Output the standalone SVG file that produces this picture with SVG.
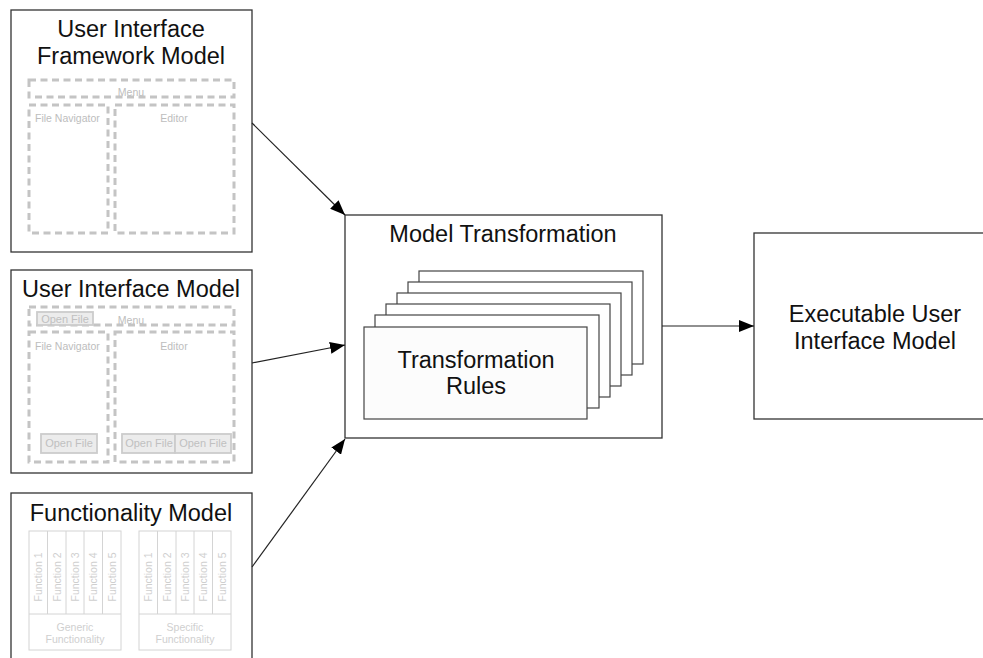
<svg xmlns="http://www.w3.org/2000/svg" width="983" height="658" viewBox="0 0 983 658">
  <style>
    .box { fill: #ffffff; stroke: #333333; stroke-width: 1.3; }
    .title { font-family: "Liberation Sans", Arial, sans-serif; font-size: 23.5px; fill: #111111; text-anchor: middle; }
    .dash { fill: none; stroke: #c4c4c4; stroke-width: 3; stroke-dasharray: 7 4.5; }
    .lbl { font-family: "Liberation Sans", Arial, sans-serif; font-size: 10.5px; fill: #bdbdbd; }
    .mid { text-anchor: middle; }
    .btn { fill: #ececec; stroke: #cccccc; stroke-width: 1.8; }
    .btntxt { font-family: "Liberation Sans", Arial, sans-serif; font-size: 11px; fill: #c0c0c0; text-anchor: middle; }
    .panel { fill: #ffffff; stroke: #d4d4d4; stroke-width: 1; }
    .fn { font-family: "Liberation Sans", Arial, sans-serif; font-size: 10.5px; fill: #cfcfcf; text-anchor: middle; }
    .card { fill: #ffffff; stroke: #444444; stroke-width: 1.2; }
    .edge { fill: none; stroke: #222222; stroke-width: 1.2; marker-end: url(#arrow); }
  </style>
  <defs>
    <marker id="arrow" markerWidth="16" markerHeight="12" refX="15" refY="6" orient="auto" markerUnits="userSpaceOnUse">
      <path d="M0,0 L15,6 L0,12 Z" fill="#000000"/>
    </marker>
  </defs>

  <!-- Framework model -->
  <g id="ui-framework-model">
    <rect class="box" x="11" y="10" width="241" height="242"/>
    <text class="title" x="131" y="37">User Interface</text>
    <text class="title" x="131" y="64">Framework Model</text>
    <rect class="dash" x="29" y="80" width="205" height="17"/>
    <rect class="dash" x="29" y="105" width="79" height="128"/>
    <rect class="dash" x="115" y="105" width="119" height="128"/>
    <text class="lbl mid" x="131" y="96">Menu</text>
    <text class="lbl" x="35" y="122">File Navigator</text>
    <text class="lbl mid" x="174" y="122">Editor</text>
  </g>

  <!-- UI model -->
  <g id="ui-model">
    <rect class="box" x="11" y="270" width="241" height="203"/>
    <text class="title" x="131" y="297">User Interface Model</text>
    <rect class="dash" x="29" y="307" width="205" height="18"/>
    <rect class="dash" x="29" y="332" width="79" height="130"/>
    <rect class="dash" x="115" y="332" width="119" height="130"/>
    <rect class="btn" x="37" y="312" width="56" height="13"/>
    <text class="btntxt" x="65" y="323">Open File</text>
    <text class="lbl mid" x="131" y="324">Menu</text>
    <text class="lbl" x="35" y="350">File Navigator</text>
    <text class="lbl mid" x="174" y="350">Editor</text>
    <rect class="btn" x="41" y="434" width="56" height="19"/>
    <text class="btntxt" x="69" y="447">Open File</text>
    <rect class="btn" x="122" y="434" width="53" height="19"/>
    <text class="btntxt" x="149" y="447">Open File</text>
    <rect class="btn" x="175" y="434" width="56" height="19"/>
    <text class="btntxt" x="203" y="447">Open File</text>
  </g>

  <!-- Functionality model -->
  <g id="functionality-model">
    <rect class="box" x="11" y="493" width="241" height="175"/>
    <text class="title" x="131" y="521">Functionality Model</text>
    <!-- generic panel -->
    <rect class="panel" x="29" y="531" width="92" height="119"/>
    <line class="panel" x1="29" y1="614" x2="121" y2="614"/>
    <line class="panel" x1="47.5" y1="531" x2="47.5" y2="614"/>
    <line class="panel" x1="66" y1="531" x2="66" y2="614"/>
    <line class="panel" x1="84" y1="531" x2="84" y2="614"/>
    <line class="panel" x1="102.5" y1="531" x2="102.5" y2="614"/>
    <text class="fn" transform="translate(42,577) rotate(-90)">Function 1</text>
    <text class="fn" transform="translate(60.5,577) rotate(-90)">Function 2</text>
    <text class="fn" transform="translate(78.5,577) rotate(-90)">Function 3</text>
    <text class="fn" transform="translate(97,577) rotate(-90)">Function 4</text>
    <text class="fn" transform="translate(115.5,577) rotate(-90)">Function 5</text>
    <text class="fn" x="75" y="631">Generic</text>
    <text class="fn" x="75" y="643">Functionality</text>
    <!-- specific panel -->
    <rect class="panel" x="139" y="531" width="92" height="119"/>
    <line class="panel" x1="139" y1="614" x2="231" y2="614"/>
    <line class="panel" x1="157.5" y1="531" x2="157.5" y2="614"/>
    <line class="panel" x1="176" y1="531" x2="176" y2="614"/>
    <line class="panel" x1="194" y1="531" x2="194" y2="614"/>
    <line class="panel" x1="212.5" y1="531" x2="212.5" y2="614"/>
    <text class="fn" transform="translate(152,577) rotate(-90)">Function 1</text>
    <text class="fn" transform="translate(170.5,577) rotate(-90)">Function 2</text>
    <text class="fn" transform="translate(188.5,577) rotate(-90)">Function 3</text>
    <text class="fn" transform="translate(207,577) rotate(-90)">Function 4</text>
    <text class="fn" transform="translate(225.5,577) rotate(-90)">Function 5</text>
    <text class="fn" x="185" y="631">Specific</text>
    <text class="fn" x="185" y="643">Functionality</text>
  </g>

  <!-- Model transformation with stacked rule cards -->
  <g id="model-transformation">
    <rect class="box" x="345" y="215" width="317" height="223"/>
    <text class="title" x="503" y="242">Model Transformation</text>
    <rect class="card" x="419" y="271" width="224" height="93"/>
    <rect class="card" x="408" y="282" width="224" height="93"/>
    <rect class="card" x="397" y="293" width="224" height="93"/>
    <rect class="card" x="386" y="304" width="224" height="93"/>
    <rect class="card" x="375" y="315" width="224" height="93"/>
    <rect class="card" x="364" y="327" width="223" height="92" style="fill:#fcfcfc"/>
    <text class="title" x="476" y="368">Transformation</text>
    <text class="title" x="476" y="394">Rules</text>
  </g>

  <!-- Result -->
  <g id="executable-ui-model">
    <rect class="box" x="754" y="233" width="240" height="186"/>
    <text class="title" x="875" y="322">Executable User</text>
    <text class="title" x="875" y="349">Interface Model</text>
  </g>

  <!-- Connectors -->
  <g id="connectors">
    <line class="edge" x1="252" y1="123" x2="345" y2="215"/>
    <line class="edge" x1="252" y1="363" x2="345" y2="345"/>
    <line class="edge" x1="252" y1="567" x2="345" y2="439"/>
    <line class="edge" x1="662" y1="326" x2="754" y2="326"/>
  </g>
</svg>
